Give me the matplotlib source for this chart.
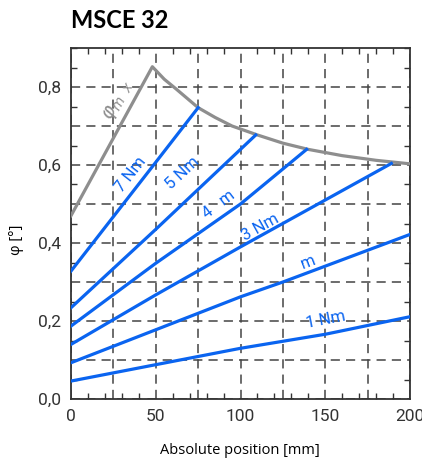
import matplotlib
matplotlib.use("Agg")
import matplotlib.pyplot as plt
from matplotlib.ticker import MultipleLocator

# data
phi_max_x = [0, 48, 55, 62, 75, 85, 95, 110, 125, 140, 160, 180, 200]
phi_max_y = [0.47, 0.852, 0.82, 0.795, 0.747, 0.722, 0.700, 0.677, 0.656, 0.640, 0.624, 0.612, 0.603]

torque_x = {
    '7 Nm': [0, 50, 75],
    '5 Nm': [0, 50, 109],
    '4 Nm': [0, 50, 100, 139],
    '3 Nm': [0, 50, 100, 189],
    '2 Nm': [0, 100, 125, 200],
    '1 Nm': [0, 100, 150, 200],
}
torque_y = {
    '7 Nm': [0.328, 0.607, 0.747],
    '5 Nm': [0.234, 0.435, 0.677],
    '4 Nm': [0.187, 0.348, 0.50, 0.640],
    '3 Nm': [0.140, 0.267, 0.39, 0.604],
    '2 Nm': [0.093, 0.262, 0.30, 0.422],
    '1 Nm': [0.046, 0.130, 0.166, 0.211],
}
# label text, x, y, rotation
labels = [
    ('7 Nm', 35.5, 0.575, 52),
    ('5 Nm', 66, 0.58, 43),
    ('4   m', 87, 0.50, 37),
    ('3 Nm', 111.5, 0.441, 29),
    ('m', 140, 0.351, 21),
    ('1 Nm', 150, 0.203, 11),
]

xticks = [0, 25, 50, 75, 100, 125, 150, 175, 200]
yticks = [0.0, 0.1, 0.2, 0.3, 0.4, 0.5, 0.6, 0.7, 0.8]

blue = '#0a64f0'
gray = '#8e8e8e'

fig = plt.figure(figsize=(4.22, 4.63), dpi=100)
ax = fig.add_axes([71/422, 64/463, 339/422, 351/463])

ax.plot(phi_max_x, phi_max_y, color=gray, lw=2.3, zorder=3)
for k in torque_x:
    ax.plot(torque_x[k], torque_y[k], color=blue, lw=2.3, zorder=3)

for txt, x, y, rot in labels:
    ax.text(x, y, txt, color=blue, fontsize=12, family='Roboto',
            rotation=rot, rotation_mode='anchor', ha='center', va='center', zorder=4)
ax.text(28, 0.765, r'$\varphi_{m}$ $_{x}$', color=gray, fontsize=14,
        rotation=61, rotation_mode='anchor', ha='center', va='center', zorder=4)

ax.set_xlim(0, 200)
ax.set_ylim(0, 0.9)
ax.set_xticks(xticks)
ax.set_xticklabels([str(v) if v % 50 == 0 else '' for v in xticks])
ax.set_yticks(yticks)
ax.set_yticklabels([('%.1f' % v).replace('.', ',') if round(v * 10) % 2 == 0 else '' for v in yticks])
ax.xaxis.set_minor_locator(MultipleLocator(10))
ax.yaxis.set_minor_locator(MultipleLocator(0.05))

ax.tick_params(which='both', direction='in', top=True, right=True, color='#333333')
ax.tick_params(which='major', length=0, pad=7, labelsize=12.5, labelcolor='#333333')
ax.tick_params(which='minor', length=4, width=1)
for lab in ax.get_xticklabels() + ax.get_yticklabels():
    lab.set_family('Roboto')

ax.grid(True, which='major', color='#444444', linestyle=(0, (6, 4)), lw=1.1)
for s in ax.spines.values():
    s.set_color('#333333')
    s.set_linewidth(1.3)

fig.text(17/422, 1 - 240/463, 'φ [°]', fontsize=10.5, family='Open Sans',
         rotation=90, ha='center', va='center')
fig.text(240/422, 1 - 451/463, 'Absolute position [mm]', fontsize=10.5,
         family='Open Sans', ha='center', va='center')
fig.text(71/422, 1 - 28/463, 'MSCE 32', fontsize=17, weight='bold', family='Lato')

fig.savefig('out.png', dpi=100)
